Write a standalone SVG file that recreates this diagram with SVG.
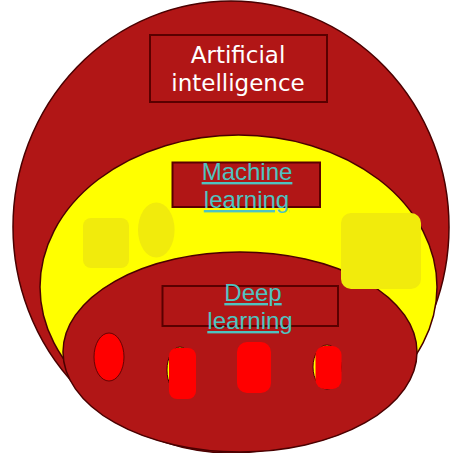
<svg xmlns="http://www.w3.org/2000/svg" width="461" height="453" viewBox="0 0 461 453">
<style>
.dr{fill:#b11616;stroke:#4a0000;stroke-width:1.5}
.box{fill:#b11616;stroke:#5a0000;stroke-width:2}
.yl{fill:#ffff00;stroke:#4a0000;stroke-width:1.5}
.soft{fill:#f1eb0c}
.red{fill:#ff0000}
.ai{font-family:"DejaVu Sans",sans-serif;font-size:23px;fill:#ffffff;text-anchor:middle}
.lk{font-family:"Liberation Sans",Arial,sans-serif;font-size:24px;fill:#4fc3c0;text-anchor:middle;text-decoration:underline}
</style>
<rect width="461" height="453" fill="#ffffff"/>
<g id="ai">
<ellipse class="dr" cx="231" cy="227" rx="218" ry="226"/>
<rect class="box" x="150" y="35" width="177" height="67"/>
<text class="ai" x="238" y="63">Artificial</text>
<text class="ai" x="238" y="91">intelligence</text>
</g>
<g id="ml">
<ellipse class="yl" cx="238.5" cy="287" rx="198.5" ry="152"/>
<rect class="box" x="172.5" y="162.5" width="147.5" height="44.5"/>
<rect class="soft" x="83" y="218" width="46" height="50" rx="8"/>
<ellipse class="soft" cx="156.3" cy="230" rx="18.3" ry="27.5"/>
<text class="lk" x="247" y="180">Machine</text>
<text class="lk" x="246.5" y="208">learning</text>
</g>
<g id="dl">
<ellipse class="dr" cx="240" cy="352" rx="177" ry="100"/>
<rect class="soft" x="341" y="213" width="80" height="76" rx="10"/>
<rect class="box" x="162.5" y="286" width="175.5" height="40"/>
<text class="lk" x="253" y="301">Deep</text>
<text class="lk" x="250" y="329">learning</text>
<ellipse class="red" cx="109" cy="357" rx="15" ry="24" stroke="#4a0000" stroke-width="0.8"/>
<ellipse cx="180" cy="370" rx="13" ry="23" fill="#ffff00" stroke="#4a0000" stroke-width="1"/>
<rect class="red" x="169" y="348" width="27" height="51" rx="8"/>
<rect class="red" x="237" y="342" width="34" height="51" rx="10"/>
<ellipse cx="327" cy="367" rx="14" ry="22" fill="#ffff00" stroke="#4a0000" stroke-width="1"/>
<rect class="red" x="315.5" y="346" width="26" height="43" rx="9"/>
</g>
</svg>
